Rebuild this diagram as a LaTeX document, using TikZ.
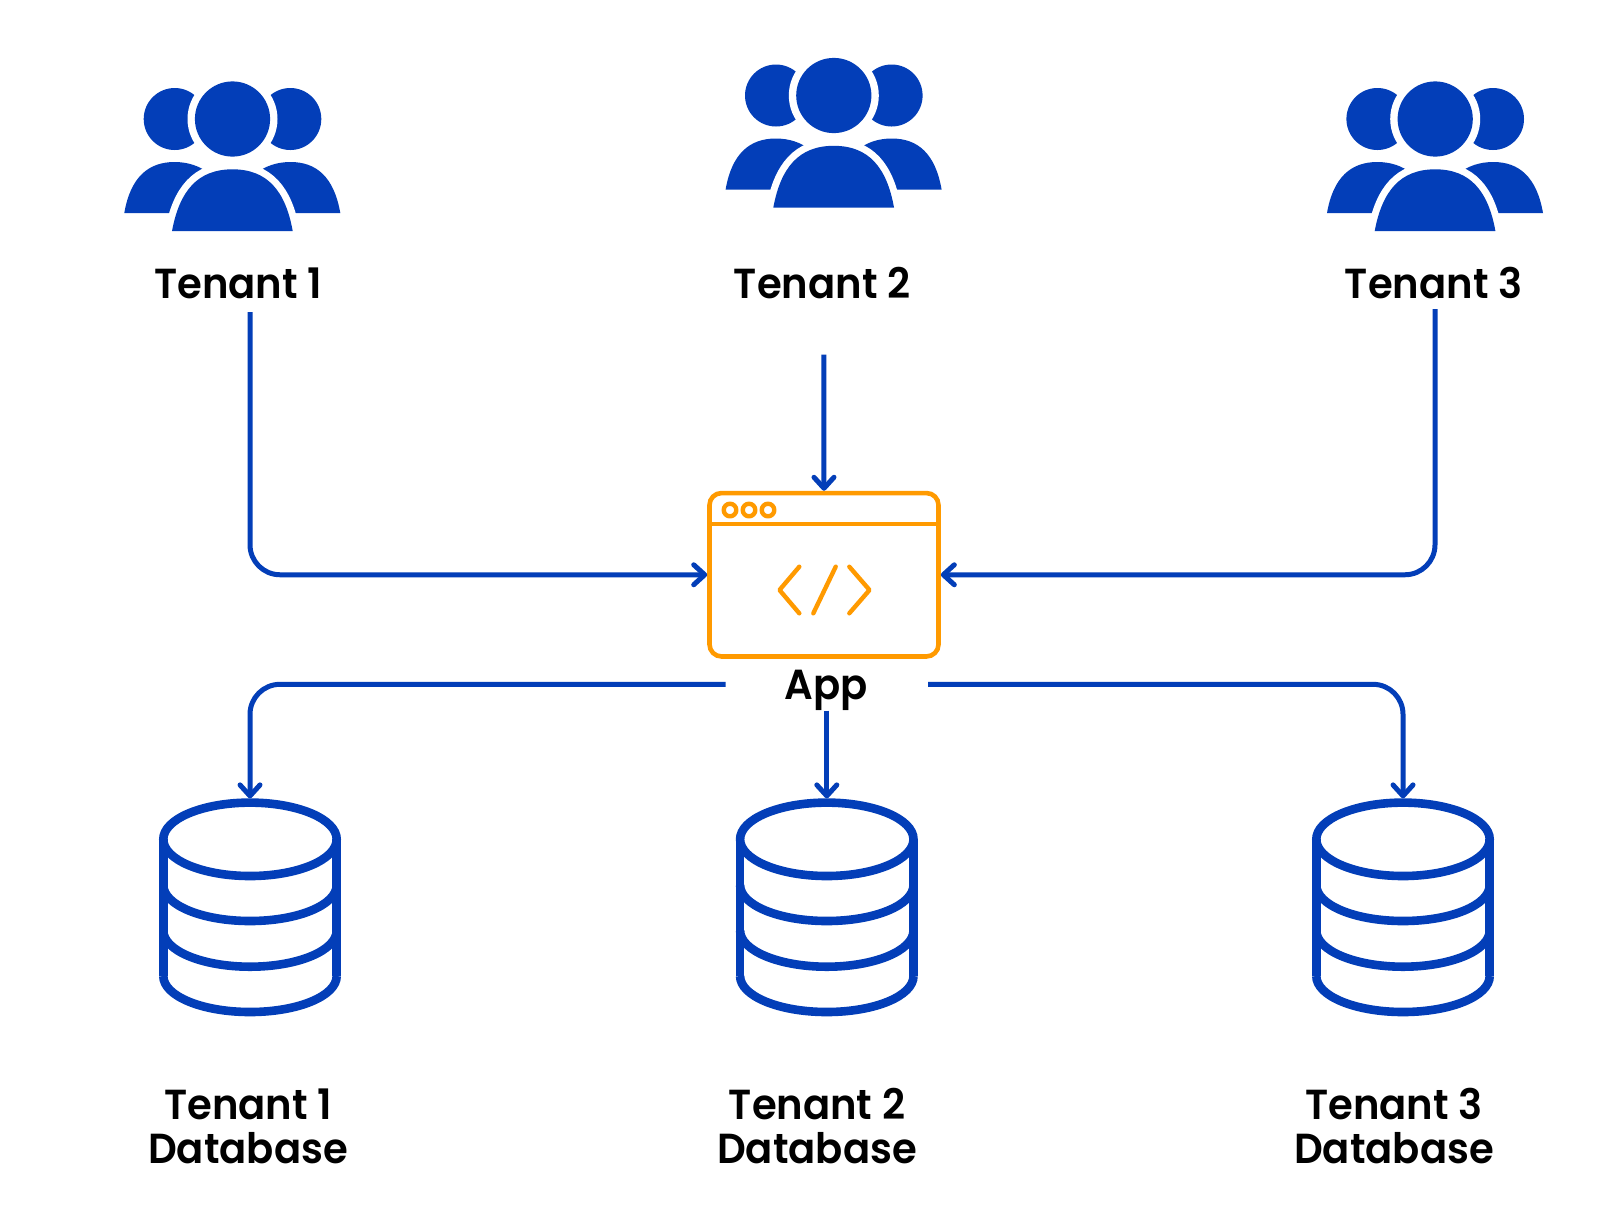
\documentclass[tikz,border=0pt]{standalone}
\usepackage{fontspec}
\setmainfont{Poppins}[BoldFont={Poppins SemiBold},BoldFeatures={FakeStretch=0.955}]
\usetikzlibrary{arrows.meta}
\definecolor{brandblue}{HTML}{033EB8}
\definecolor{brandorange}{HTML}{FF9A00}
\tikzset{
  x=0.5pt,y=-0.5pt,
  link/.style={draw=brandblue,line width=2.5pt,rounded corners=15pt,
    -{Straight Barb[round,length=5.5pt,width=10pt]}},
  caption/.style={font=\fontsize{21}{22}\selectfont\bfseries,text=black,inner sep=0pt,anchor=base,align=center},
  appbox/.style={draw=brandorange,line width=2.3pt,rounded corners=6pt,minimum width=114.5pt,minimum height=81.7pt,inner sep=0pt},
  appline/.style={draw=brandorange,line width=2.2pt,line cap=round,line join=round},
  dbline/.style={draw=brandblue,line width=4.3pt},
  dbanchor/.style={minimum width=86.7pt,minimum height=107pt,inner sep=0pt,outer sep=0pt},
  personfill/.style={fill=brandblue},
  personhalo/.style={draw=white,fill=white,line width=7pt},
  pics/people/.style={code={
    \fill[personfill] (-57.8,0) circle (31);
    \fill[personfill] (57.8,0) circle (31);
    \fill[personfill] (-108.2,94) .. controls (-102,58) and (-84,43) .. (-58,43) .. controls (-32,43) and (-8,58) .. (-6,94) -- cycle;
    \fill[personfill] (107.8,94) .. controls (101.5,58) and (84,43) .. (58,43) .. controls (32,43) and (8,58) .. (6,94) -- cycle;
    \fill[white] (0,0) circle (45);
    \path[personhalo] (-60.5,112) .. controls (-53,72) and (-35,50.3) .. (0,50.3) .. controls (35,50.3) and (53,72) .. (60.2,112) -- cycle;
    \fill[personfill] (0,0) circle (37.6);
    \fill[personfill] (-60.5,112) .. controls (-53,72) and (-35,50.3) .. (0,50.3) .. controls (35,50.3) and (53,72) .. (60.2,112) -- cycle;
  }},
  pics/database/.style={code={
    \draw[dbline] (0,-36.7) ellipse (86.7 and 36.7);
    \draw[dbline] (-86.7,-36.7) -- (-86.7,100);
    \draw[dbline] (86.7,-36.7) -- (86.7,100);
    \draw[dbline] (-86.7,9) .. controls (-86.7,29) and (-48,45) .. (0,45) .. controls (48,45) and (86.7,29) .. (86.7,9);
    \draw[dbline] (-86.7,54.5) .. controls (-86.7,74.5) and (-48,90.7) .. (0,90.7) .. controls (48,90.7) and (86.7,74.5) .. (86.7,54.5);
    \draw[dbline] (-86.7,100) .. controls (-86.7,120) and (-48,136) .. (0,136) .. controls (48,136) and (86.7,120) .. (86.7,100);
  }},
}
\begin{document}
\begin{tikzpicture}
\useasboundingbox (0,0) rectangle (1616,1212);
\fill[white] (0,0) rectangle (1616,1212);

% tenants
\pic at (232.5,119) {people};
\pic at (833.8,95.5) {people};
\pic at (1435.2,119) {people};
\node[caption] (t1) at (238,298) {Tenant 1};
\node[caption] (t2) at (822,298) {Tenant 2};
\node[caption] (t3) at (1433.6,298) {Tenant 3};

% app
\node[appbox] (app) at (824,574.75) {};
\draw[appline] (709.5,524) -- (938.5,524);
\draw[appline] (730,510) circle (6.3);
\draw[appline] (749,510) circle (6.3);
\draw[appline] (768,510) circle (6.3);
\draw[appline] (799.3,566.7) -- (779.5,590) -- (799.3,613.3);
\draw[appline] (835.7,566.7) -- (813.3,613.3);
\draw[appline] (849.3,566.7) -- (869.5,590) -- (849.3,613.3);
\node[caption] (applabel) at (826,699) {App};

% databases
\node[dbanchor] (db1) at (250,905.4) {};
\node[dbanchor] (db2) at (826.8,905.4) {};
\node[dbanchor] (db3) at (1403,905.4) {};
\pic at (db1.center |- 0,876) {database};
\pic at (db2.center |- 0,876) {database};
\pic at (db3.center |- 0,876) {database};
\node[caption] (d1) at (248,1163.5) {Tenant 1\\Database};
\node[caption] (d2) at (817,1163.5) {Tenant 2\\Database};
\node[caption] (d3) at (1394,1163.5) {Tenant 3\\Database};

% connector free ends
\coordinate (t1out) at (250,312);
\coordinate (t2out) at (823.8,354.5);
\coordinate (t3out) at (1435,309);
\coordinate (appleft) at (725.7,684.3);
\coordinate (appright) at (928,684.3);
\coordinate (appdown) at (826.8,710.7);

% connectors
\draw[link] (t1out) |- (app.west);
\draw[link] (t2out) -- (app.north);
\draw[link] (t3out) |- (app.east);
\draw[link] (appleft) -| (db1.north);
\draw[link] (appdown) -- (db2.north);
\draw[link] (appright) -| (db3.north);
\end{tikzpicture}
\end{document}
